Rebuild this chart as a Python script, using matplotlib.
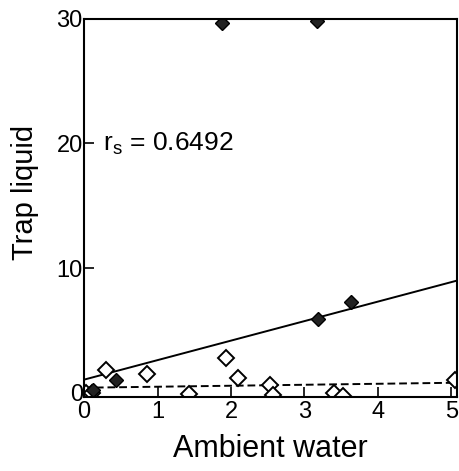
import numpy as np
import matplotlib
matplotlib.use("Agg")
import matplotlib.pyplot as plt

plt.rcParams['font.family'] = ['Liberation Sans', 'DejaVu Sans']

# filled diamonds
filled_x = [1.87, 3.17, 3.63, 3.18, 0.44, 0.12]
filled_y = [29.7, 29.8, 7.3, 5.9, 1.0, 0.25]
# open diamonds
open_x = [0.30, 0.85, 1.93, 2.10, 2.53, 2.57, 1.43, 3.40, 3.52, 5.05, 0.03, 0.10]
open_y = [1.8, 1.5, 2.8, 1.2, 0.65, -0.15, -0.1, 0.0, -0.3, 1.05, 0.0, 0.0]

# fitted lines (end points)
solid_x = [0.0, 5.08]
solid_y = [1.05, 9.0]
dash_x = [0.0, 5.08]
dash_y = [0.4, 0.8]

fig = plt.figure(figsize=(4.6, 4.71), dpi=100)
ax = fig.add_axes([0.183, 0.157, 0.811, 0.803])

ax.plot(solid_x, solid_y, color='black', linewidth=1.4)
ax.plot(dash_x, dash_y, color='black', linewidth=1.4, linestyle=(0, (4, 2)))
ax.plot(open_x, open_y, linestyle='none', marker='D', markersize=8,
        markerfacecolor='white', markeredgecolor='black', markeredgewidth=1.4)
ax.plot(filled_x, filled_y, linestyle='none', marker='D', markersize=7,
        markerfacecolor='#222222', markeredgecolor='black')

ax.set_xlim(0, 5.08)
ax.set_ylim(-0.35, 30)
ax.set_xticks([0, 1, 2, 3, 4, 5])
ax.set_yticks([0, 10, 20, 30])
ax.tick_params(direction='in', length=7, width=1.2, labelsize=17)
ax.tick_params(axis='y', pad=1)
ax.tick_params(axis='x', pad=3)
for s in ax.spines.values():
    s.set_linewidth(1.5)

ax.text(0.25, 20, 'r$_\\mathregular{s}$ = 0.6492', fontsize=19, va='center', ha='left')

ax.set_xlabel('Ambient water', fontsize=22, labelpad=8)
fig.text(25 / 460, 1 - 192 / 471, 'Trap liquid', fontsize=21, rotation=90,
         ha='center', va='center')

fig.savefig('out.png', dpi=100)
